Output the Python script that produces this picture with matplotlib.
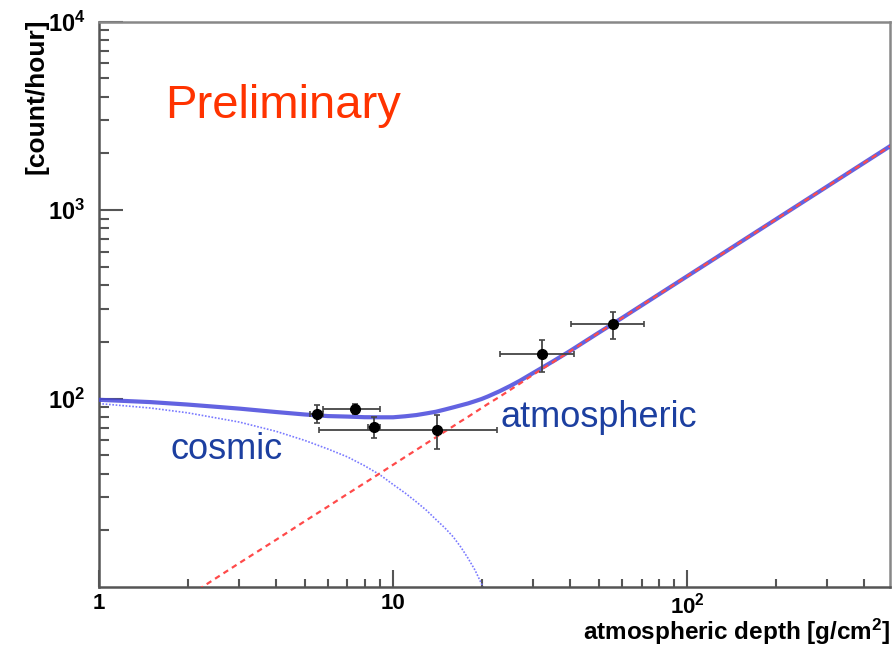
import numpy as np
import matplotlib.pyplot as plt
from matplotlib.ticker import FixedLocator, NullFormatter

plt.rcParams['font.family'] = ['Liberation Sans', 'DejaVu Sans']
plt.rcParams['mathtext.fontset'] = 'custom'
plt.rcParams['mathtext.rm'] = 'Liberation Sans'
plt.rcParams['mathtext.bf'] = 'Liberation Sans:bold'

# measured rates vs depth
depth = [5.5, 7.4, 8.6, 14.1, 32.2, 55.9]
depth_err = [0.3, 1.6, 0.4, 8.5, 9.0, 15.5]
rate = [83, 88, 71, 68, 172, 248]
rate_err = [9, 5, 9, 14, 33, 40]

# fit components sampled along depth
fit_x = [1, 1.5, 2, 3, 4, 5, 6, 7, 8, 9, 10, 11, 12, 13, 14, 15, 16, 17, 18,
         19, 20, 21, 23, 25, 27, 30, 35, 40, 50, 60, 100, 200, 490]
cosmic = [94, 89, 84, 75, 67, 60, 54, 49, 44, 39.5, 35, 31.5, 28.3, 25.5,
          22.8, 20.6, 18.5, 16.3, 14.2, 12.3, 10.4, 9.0, 7.2, 5.5, 4.2, 2.8,
          1.5, 0.7, 0.2, 0.05, 0.001, 0.001, 0.001]
atmospheric = [4.45, 6.7, 8.9, 13.4, 17.8, 22.3, 26.7, 31.2, 35.6, 40, 44.5,
               49, 53.4, 57.9, 62.3, 66.8, 71.2, 75.7, 80, 84.5, 89, 93.5,
               102, 111, 120, 134, 156, 178, 223, 267, 445, 890, 2180]
total = np.array(cosmic) + np.array(atmospheric)

fig = plt.figure(figsize=(8.93, 6.48), dpi=100)
ax = fig.add_axes([0.1109, 0.0941, 0.8857, 0.8727])
ax.set_xscale('log')
ax.set_yscale('log')

ax.plot(fit_x, total, color='#4848dc', lw=3, alpha=0.85, solid_joinstyle='round',
        solid_capstyle='round', zorder=3)
ax.plot(fit_x, cosmic, color='#7a7aff', lw=1.2, ls=(0, (1, 1)), zorder=2)
ax.plot(fit_x, atmospheric, color='#ff4a4a', lw=1.6, ls=(0, (2.5, 2)), zorder=4)

ax.errorbar(depth, rate, xerr=depth_err, yerr=rate_err, fmt='o', color='black',
            ms=7, ecolor='#444444', elinewidth=1.3, capsize=2, capthick=1.2, zorder=5)

ax.set_xlim(1, 490)
ax.set_ylim(10, 1e4)

ax.xaxis.set_major_locator(FixedLocator([1, 10, 100]))
ax.set_xticklabels(['1', '10', r'$\mathbf{10^{2}}$'])
ax.xaxis.set_minor_locator(FixedLocator([m * 10 ** k for k in range(3) for m in range(2, 10)]))
ax.xaxis.set_minor_formatter(NullFormatter())

ax.yaxis.set_major_locator(FixedLocator([100, 1000, 10000]))
ax.set_yticklabels([r'$\mathbf{10^{2}}$', r'$\mathbf{10^{3}}$', r'$\mathbf{10^{4}}$'])
ax.yaxis.set_minor_locator(FixedLocator([m * 10 ** k for k in range(1, 4) for m in range(2, 10)]))
ax.yaxis.set_minor_formatter(NullFormatter())

for lbl in ax.get_yticklabels():
    lbl.set_fontweight('bold')
    lbl.set_fontsize(17)
for lbl in ax.get_xticklabels():
    lbl.set_fontweight('bold')
    lbl.set_fontsize(16)

ax.tick_params(axis='y', which='major', direction='in', length=17, width=1.5,
               color='#555555', pad=10, right=False)
ax.tick_params(axis='y', which='minor', direction='in', length=7, width=1.5,
               color='#555555', right=False)
ax.tick_params(axis='x', which='major', direction='in', length=12, width=1.5,
               color='#555555', pad=4, top=False)
ax.tick_params(axis='x', which='minor', direction='in', length=6, width=1.5,
               color='#555555', top=False)

for side in ['left', 'bottom']:
    ax.spines[side].set_color('#555555')
    ax.spines[side].set_linewidth(1.8)
for side in ['top', 'right']:
    ax.spines[side].set_color('#888888')
    ax.spines[side].set_linewidth(1.8)

ax.text(0.0834, 0.8286, 'Preliminary', transform=ax.transAxes, color='#ff3300',
        fontsize=34, va='baseline')
ax.text(0.0898, 0.2261, 'cosmic', transform=ax.transAxes, color='#1c3fa0',
        fontsize=26, va='baseline')
ax.text(0.508, 0.2827, 'atmospheric', transform=ax.transAxes, color='#1c3fa0',
        fontsize=26, va='baseline')

fig.text(0.041, 0.972, '[count/hour]', rotation=90, ha='center', va='top',
         fontsize=19, fontweight='bold')
fig.text(0.9966, 0.012, r'atmospheric depth [g/cm$\mathbf{^{2}}$]', ha='right',
         va='baseline', fontsize=17.5, fontweight='bold')

fig.savefig('out.png', dpi=100)
